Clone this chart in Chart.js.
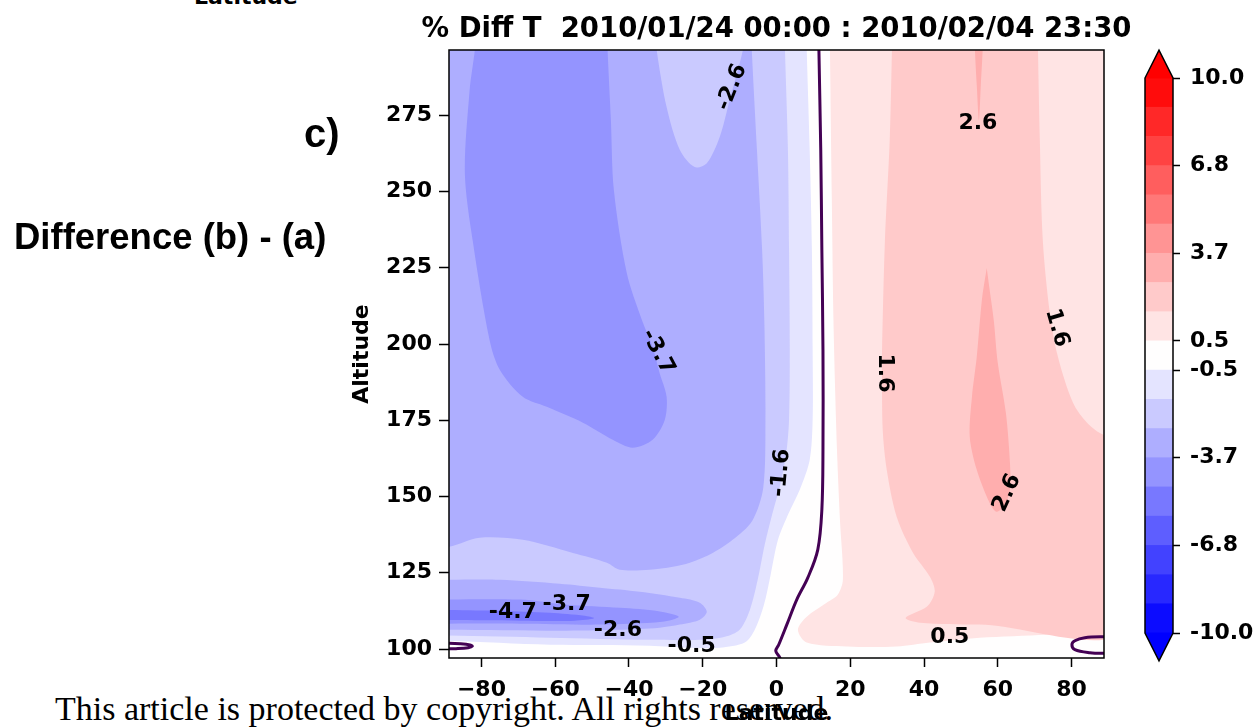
<!DOCTYPE html>
<html>
<head>
<meta charset="utf-8">
<script src="https://cdn.jsdelivr.net/npm/chart.js@4.4.1/dist/chart.umd.min.js"></script>
<style>
  html, body { margin: 0; padding: 0; background: #fff; }
  #wrap { position: relative; width: 1258px; height: 727px; overflow: hidden; background: #fff; }
  canvas { position: absolute; }
  .txt { position: absolute; white-space: nowrap; color: #000; }
  #prevLab { left: 194px; top: -14px; font: bold 22px/22px "DejaVu Sans"; }
  #panel { left: 304px; top: 113px; font: bold 40px/40px "Liberation Sans"; }
  #diff { left: 14px; top: 219px; font: bold 36.5px/36px "Liberation Sans"; }
  #copy { left: 55px; top: 692px; font: 34px/34px "Liberation Serif"; }
</style>
</head>
<body>
<div id="wrap">
  <div class="txt" id="copy">This article is protected by copyright. All rights reserved.</div>
  <canvas id="main" width="953" height="727" style="left:300px;top:0"></canvas>
  <canvas id="cbar" width="158" height="727" style="left:1100px;top:0"></canvas>
  <div class="txt" id="prevLab">Latitude</div>
  <div class="txt" id="panel">c)</div>
  <div class="txt" id="diff">Difference (b) - (a)</div>
</div>
<script>
// Contour levels of the % temperature difference (20 evenly spaced levels, −10 … 10)
const LEVELS = [-10, -8.9474, -7.8947, -6.8421, -5.7895, -4.7368, -3.6842, -2.6316, -1.5789, -0.5263,
                0.5263, 1.5789, 2.6316, 3.6842, 4.7368, 5.7895, 6.8421, 7.8947, 8.9474, 10];
const X_TICKS = [-80, -60, -40, -20, 0, 20, 40, 60, 80];
const Y_TICKS = [100, 125, 150, 175, 200, 225, 250, 275];
const CB_TICKS = [-10, -6.8421, -3.6842, -0.5263, 0.5263, 3.6842, 6.8421, 10];

// Filled contour regions as [latitude, altitude] outlines; later regions sit on top of earlier ones.
const regionAll = [[-95, 95], [95, 95], [95, 300], [-95, 300]];
const regionNeg05 = [[8.2,300],[8.2,296.4],[9.0,263.6],[9.6,230.8],[9.8,198.1],[9.8,175.1],[9.0,162.0],[6.3,152.2],[3.1,144.0],[0.4,135.8],[-1.6,124.3],[-3.4,114.5],[-5.9,106.3],[-8.6,102.1],[-15.4,100.4],[-23.0,100.4],[-34.4,101.1],[-61.5,101.4],[-88.9,102.7],[-95,102.7],[-95,300]];
const regionNeg16 = [[2.3,300],[2.3,296.4],[3.1,263.6],[3.4,230.8],[3.6,198.1],[3.4,175.1],[2.6,163.7],[1.0,153.8],[-1.2,144.0],[-3.2,134.2],[-5.1,122.7],[-7.2,112.9],[-10.0,106.3],[-14.0,104.0],[-20.8,103.0],[-34.4,103.0],[-61.5,103.7],[-88.9,104.4],[-95,104.4],[-95,300]];
const regionNeg26Upper = [[-6.7,300],[-6.7,296.4],[-5.3,263.6],[-3.9,230.8],[-3.3,207.9],[-3.0,175.1],[-3.6,152.8],[-6.6,142.0],[-11.9,135.8],[-17.3,131.5],[-23.5,128.3],[-28.1,127.0],[-34.4,126.0],[-42.5,126.0],[-46.0,128.3],[-55.2,131.5],[-68.8,135.8],[-80.5,136.5],[-88.9,133.5],[-95,133.5],[-95,300]];
const regionNeg26Lower = [[-95,122.7],[-88.9,122.7],[-75.0,122.7],[-58.8,121.4],[-47.9,120.1],[-37.1,118.8],[-26.2,116.8],[-20.8,115.2],[-18.9,112.2],[-20.8,109.6],[-26.2,108.0],[-31.7,107.0],[-43.3,106.3],[-58.8,106.0],[-88.9,106.3],[-95,106.3]];
const regionTongue = [[-32.5,300],[-32.5,296.4],[-29.8,277.7],[-26.2,263.6],[-22.2,258.0],[-18.9,259.3],[-15.4,267.9],[-12.7,280.0],[-9.1,296.4],[-9.1,300]];
const regionNeg37Upper = [[-45.8,300],[-45.8,296.4],[-44.9,273.4],[-44.1,250.5],[-40.6,223.3],[-36.5,207.9],[-33.6,199.1],[-31.7,190.5],[-29.8,182.7],[-30.3,175.1],[-33.6,168.6],[-39.0,166.0],[-44.4,168.6],[-52.5,174.2],[-62.3,179.4],[-68.8,182.7],[-75.0,191.5],[-77.8,201.3],[-82.4,234.1],[-84.5,256.1],[-83.2,283.3],[-81.8,296.4],[-81.8,300]];
const regionNeg37Lower = [[-95,116.2],[-69.6,116.2],[-56.9,114.5],[-42.5,113.5],[-32.0,112.4],[-26.5,110.6],[-31.0,108.9],[-47.9,108.0],[-69.6,108.3],[-95,108.3]];
const regionNeg47 = [[-95,112.9],[-75.0,112.5],[-61.5,111.9],[-52.0,110.9],[-49.5,110.1],[-54.7,109.3],[-69.6,109.3],[-95,109.6]];
const regionPos05 = [[14.5,300],[14.5,296.4],[15.0,247.2],[15.5,204.6],[16.4,165.3],[17.2,142.4],[18.0,122.7],[16.6,117.8],[13.6,115.2],[8.2,110.6],[5.8,106.3],[8.2,102.1],[19.1,100.8],[32.6,100.8],[41.6,102.1],[55.1,103.7],[73.3,104.7],[88.8,105.7],[95,105.7],[95,300]];
const regionPos16 = [[31.3,300],[31.3,296.4],[30.7,266.9],[29.4,234.1],[28.6,197.1],[28.6,190.5],[28.8,171.9],[29.9,158.7],[32.6,143.3],[37.0,131.6],[41.6,123.7],[42.9,118.8],[40.8,113.9],[35.0,110.2],[38.9,108.6],[55.1,108.0],[95,108.0],[95,300]];
const regionPos16Edge = [[70.9,300],[70.9,296.4],[71.4,266.9],[72.2,234.1],[74.1,210.2],[76.3,195.8],[80.4,180.7],[84.2,174.2],[88.8,170.2],[95,169.6],[95,300]];
const regionPos26Top = [[53.8,300],[53.8,296.4],[54.3,284.9],[54.9,273.4],[55.4,284.9],[55.9,296.4],[55.9,300]];
const regionPos26 = [[57.0,224.9],[55.7,214.5],[54.3,195.8],[53.0,182.7],[52.4,169.6],[54.3,158.8],[57.8,147.9],[59.7,145.0],[61.9,147.3],[63.3,152.2],[63.3,161.0],[62.2,177.4],[60.0,193.8],[58.9,207.9],[57.8,217.7]];

// Zero contour lines
const zeroLine = [[11.5,300],[11.5,296.4],[12.0,263.6],[12.3,230.8],[12.6,198.1],[12.6,165.3],[12.3,145.7],[11.2,132.6],[8.5,123.4],[5.5,116.2],[2.8,108.0],[0.6,101.4],[-0.2,99.4],[0.9,97.2],[1.2,95.8]];
const zeroLoopWest = [[-92,101.9],[-88.9,101.9],[-85.8,101.7],[-83.1,101.3],[-82.5,100.9],[-83.6,100.4],[-86.9,100.1],[-88.9,100.1],[-92,100.1]];
const zeroLoopEast = [[95,104.0],[89.0,104.0],[83.6,103.7],[80.9,102.7],[80.1,101.4],[80.9,99.8],[85.0,98.8],[89.0,98.6],[95,98.6]];

// Inline contour labels: level index and anchor [latitude, altitude]
const contourLabels = [
  { level: 5,  at: [-71.5, 111.9], angle: 0 },
  { level: 6,  at: [-56.9, 114.5], angle: 0 },
  { level: 7,  at: [-43.0, 106.3], angle: 0 },
  { level: 9,  at: [-23.0, 100.8], angle: 0 },
  { level: 7,  at: [-12.1, 284.2], angle: -68 },
  { level: 6,  at: [-32.2, 197.4], angle: 62 },
  { level: 8,  at: [1.2, 157.8],   angle: -85 },
  { level: 10, at: [47.0, 103.7],  angle: 0 },
  { level: 11, at: [29.4, 190.5],  angle: 90 },
  { level: 11, at: [76.0, 205.3],  angle: 74 },
  { level: 12, at: [62.5, 151.2],  angle: -65 },
  { level: 12, at: [54.6, 272.5],  angle: 0 }
];

// bwr colormap, 256-entry lookup like matplotlib
function bwr(t) {
  const i = Math.max(0, Math.min(255, Math.floor(t * 256)));
  const v = i / 255;
  if (v < 0.5) { const c = Math.round(2 * v * 255); return `rgb(${c},${c},255)`; }
  const c = Math.round(2 * (1 - v) * 255);
  return `rgb(255,${c},${c})`;
}
function bandColor(k) {
  const mid = (LEVELS[k] + LEVELS[k + 1]) / 2;
  return bwr((mid - LEVELS[0]) / (LEVELS[LEVELS.length - 1] - LEVELS[0]));
}

const layers = [
  { pts: regionAll, band: 9 },
  { pts: regionNeg05, band: 8 },
  { pts: regionNeg16, band: 7 },
  { pts: regionNeg26Upper, band: 6 },
  { pts: regionNeg26Lower, band: 6 },
  { pts: regionTongue, band: 7 },
  { pts: regionNeg37Upper, band: 5 },
  { pts: regionNeg37Lower, band: 5 },
  { pts: regionNeg47, band: 4 },
  { pts: regionPos05, band: 10 },
  { pts: regionPos16, band: 11 },
  { pts: regionPos16Edge, band: 10 },
  { pts: regionPos26Top, band: 12 },
  { pts: regionPos26, band: 12 }
];

const toXY = pts => pts.map(([x, y]) => ({ x, y }));

const datasets = layers.map((L, i) => ({
  data: toXY(L.pts),
  showLine: true,
  fill: 'shape',
  backgroundColor: bandColor(L.band),
  borderColor: 'rgba(0,0,0,0)',
  borderWidth: 0,
  pointRadius: 0,
  tension: 0.3,
  order: 100 - i
}));
[zeroLine, zeroLoopWest, zeroLoopEast].forEach(line => datasets.push({
  data: toXY(line),
  showLine: true,
  fill: false,
  borderColor: '#440154',
  borderWidth: 3,
  pointRadius: 0,
  tension: 0.35,
  order: 1
}));

const boldFont = size => ({ family: 'DejaVu Sans', weight: 'bold', size });

const frameAndLabels = {
  id: 'frameAndLabels',
  afterDatasetsDraw(chart) {
    const { ctx, chartArea: a, scales: { x, y } } = chart;
    ctx.save();
    ctx.font = 'bold 22px "DejaVu Sans"';
    ctx.fillStyle = '#000';
    ctx.textAlign = 'center';
    ctx.textBaseline = 'middle';
    for (const lab of contourLabels) {
      const px = x.getPixelForValue(lab.at[0]);
      const py = y.getPixelForValue(lab.at[1]);
      ctx.save();
      ctx.translate(px, py);
      ctx.rotate(lab.angle * Math.PI / 180);
      ctx.fillText(LEVELS[lab.level].toFixed(1), 0, 0);
      ctx.restore();
    }
    ctx.lineWidth = 1.5;
    ctx.strokeStyle = '#000';
    ctx.strokeRect(a.left, a.top, a.right - a.left, a.bottom - a.top);
    ctx.restore();
  }
};

new Chart(document.getElementById('main'), {
  type: 'scatter',
  data: { datasets },
  options: {
    responsive: false,
    animation: false,
    devicePixelRatio: 1,
    events: [],
    layout: { padding: 0 },
    elements: { line: { capBezierPoints: false } },
    plugins: {
      legend: { display: false },
      tooltip: { enabled: false },
      title: {
        display: true,
        text: '% Diff T  2010/01/24 00:00 : 2010/02/04 23:30',
        color: '#000',
        font: boldFont(27.5),
        padding: { top: 13.5, bottom: 3.5 }
      }
    },
    scales: {
      x: {
        type: 'linear', min: -88.8, max: 88.8,
        afterBuildTicks: s => { s.ticks = X_TICKS.map(v => ({ value: v })); },
        afterFit: s => { s.height = 69; },
        ticks: {
          color: '#000', font: boldFont(22), padding: 10, maxRotation: 0, autoSkip: false,
          callback: v => (v < 0 ? '\u2212' : '') + Math.abs(v)
        },
        grid: { drawOnChartArea: false, drawTicks: true, tickLength: 9, tickWidth: 1.5, tickColor: '#000' },
        border: { display: false },
        title: { display: true, text: 'Latitude', color: '#000', font: boldFont(22), padding: { top: 0, bottom: 0 } }
      },
      y: {
        type: 'linear', min: 97.05, max: 296.4,
        afterBuildTicks: s => { s.ticks = Y_TICKS.map(v => ({ value: v })); },
        afterFit: s => { s.width = 149; },
        ticks: { color: '#000', font: boldFont(22), padding: 7, autoSkip: false },
        grid: { drawOnChartArea: false, drawTicks: true, tickLength: 10, tickWidth: 1.5, tickColor: '#000' },
        border: { display: false },
        title: { display: true, text: 'Altitude', color: '#000', font: boldFont(22), padding: { top: 49, bottom: 0 } }
      },
      // empty right-hand axis that keeps room for the colorbar
      yRight: {
        type: 'linear', position: 'right', display: true,
        afterFit: s => { s.width = 149; },
        ticks: { display: false },
        grid: { display: false },
        border: { display: false }
      }
    }
  },
  plugins: [frameAndLabels]
});

// Colorbar: one floating bar segment per contour band, with extension triangles
const cbarEnds = {
  id: 'cbarEnds',
  afterDraw(chart) {
    const { ctx, chartArea: a } = chart;
    const ext = 0.05 * (a.bottom - a.top);
    const cx = (a.left + a.right) / 2;
    ctx.save();
    ctx.fillStyle = bwr(1);
    ctx.beginPath();
    ctx.moveTo(a.left, a.top + 0.5); ctx.lineTo(cx, a.top - ext); ctx.lineTo(a.right, a.top + 0.5);
    ctx.closePath(); ctx.fill();
    ctx.fillStyle = bwr(0);
    ctx.beginPath();
    ctx.moveTo(a.left, a.bottom - 0.5); ctx.lineTo(cx, a.bottom + ext); ctx.lineTo(a.right, a.bottom - 0.5);
    ctx.closePath(); ctx.fill();
    ctx.beginPath();
    ctx.moveTo(a.left, a.top); ctx.lineTo(cx, a.top - ext); ctx.lineTo(a.right, a.top);
    ctx.lineTo(a.right, a.bottom); ctx.lineTo(cx, a.bottom + ext); ctx.lineTo(a.left, a.bottom);
    ctx.closePath();
    ctx.lineWidth = 1.5; ctx.strokeStyle = '#000'; ctx.stroke();
    ctx.restore();
  }
};

new Chart(document.getElementById('cbar'), {
  type: 'bar',
  data: {
    labels: ['cb'],
    datasets: LEVELS.slice(0, -1).map((lo, k) => ({
      data: [[lo, LEVELS[k + 1]]],
      backgroundColor: bandColor(k),
      borderWidth: 0,
      grouped: false,
      barPercentage: 1,
      categoryPercentage: 1
    }))
  },
  options: {
    responsive: false,
    animation: false,
    devicePixelRatio: 1,
    events: [],
    layout: { padding: { left: 45, right: 0, top: 78, bottom: 94 } },
    plugins: { legend: { display: false }, tooltip: { enabled: false } },
    scales: {
      x: { display: false },
      y: {
        position: 'right', min: -10, max: 10,
        afterBuildTicks: s => { s.ticks = CB_TICKS.map(v => ({ value: v })); },
        afterFit: s => { s.width = 85; },
        ticks: { color: '#000', font: boldFont(22), padding: 10, autoSkip: false, callback: v => v.toFixed(1) },
        grid: { drawOnChartArea: false, drawTicks: true, tickLength: 7, tickWidth: 1.5, tickColor: '#000' },
        border: { display: false }
      }
    }
  },
  plugins: [cbarEnds]
});
</script>
</body>
</html>
